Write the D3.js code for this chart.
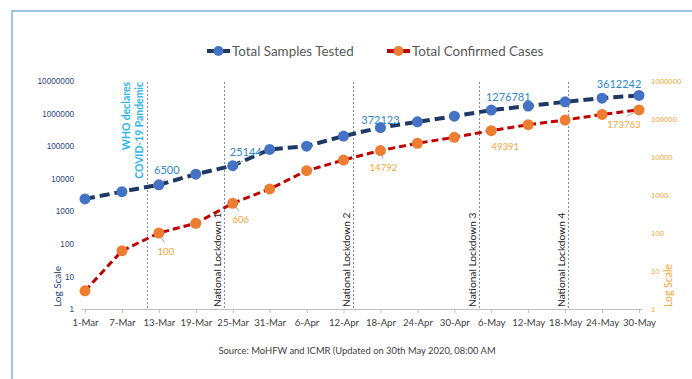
<!DOCTYPE html>
<html>
<head>
<meta charset="utf-8">
<script src="https://cdn.jsdelivr.net/npm/d3@7"></script>
<style>
  html, body { margin: 0; padding: 0; background: #fff; }
  svg { display: block; font-family: Lato, "Open Sans", sans-serif; }
</style>
</head>
<body>
<svg id="chart" width="692" height="379"></svg>
<script>
// Sampling dates (every 6 days) and their axis labels
const dates = ["2020-03-01","2020-03-07","2020-03-13","2020-03-19","2020-03-25","2020-03-31",
  "2020-04-06","2020-04-12","2020-04-18","2020-04-24","2020-04-30","2020-05-06",
  "2020-05-12","2020-05-18","2020-05-24","2020-05-30"];
const tickLabels = ["1-Mar","7-Mar","13-Mar","19-Mar","25-Mar","31-Mar","6-Apr","12-Apr",
  "18-Apr","24-Apr","30-Apr","6-May","12-May","18-May","24-May","30-May"];

// Cumulative totals (log scale)
const samplesTested = [2400, 4000, 6500, 13800, 25144, 79000, 100000, 204000,
  372123, 556000, 830000, 1276781, 1700000, 2300000, 2960000, 3612242];
const confirmedCases = [3, 34, 100, 180, 606, 1440, 4360, 8300,
  14792, 23000, 33000, 49391, 70700, 94000, 132000, 173763];

// Axis tick values
const leftTicks = [1, 10, 100, 1000, 10000, 100000, 1000000, 10000000];
const rightTicks = [1, 10, 100, 1000, 10000, 100000, 1000000];

// Key events marked with vertical dotted lines
const events = [
  { date: "2020-03-11", lines: ["WHO declares", "COVID-19 Pandemic"], kind: "who" },
  { date: "2020-03-23T12:00", lines: ["National Lockdown 1"], kind: "lockdown" },
  { date: "2020-04-13T12:00", lines: ["National Lockdown 2"], kind: "lockdown" },
  { date: "2020-05-04", lines: ["National Lockdown 3"], kind: "lockdown" },
  { date: "2020-05-18T12:00", lines: ["National Lockdown 4"], kind: "lockdown" }
];

// Which points carry value labels
const labelledIdx = [2, 4, 8, 11, 15];

// Label placement (offset from point, px) and optional leader lines
const blueLabelLayout = [
  { dx: 8, dy: -11, leader: true }, { dx: 13, dy: -10, leader: true },
  { dx: 0, dy: -4, leader: false }, { dx: 17, dy: -9, leader: false },
  { dx: -20, dy: -7, leader: false }
];
const orangeLabelLayout = [
  { dx: 7, dy: 22, leader: true }, { dx: 8, dy: 20, leader: true },
  { dx: 3, dy: 20, leader: true }, { dx: 14, dy: 19, leader: false },
  { dx: -15, dy: 18, leader: true }
];

const parse = d3.isoParse;
const svg = d3.select("#chart");

// Outer frame (top and left edges)
svg.append("line").attr("x1", 12).attr("x2", 692).attr("y1", 11).attr("y2", 11)
  .attr("stroke", "#9DC3E6").attr("stroke-width", 2);
svg.append("line").attr("x1", 12).attr("x2", 12).attr("y1", 10).attr("y2", 379)
  .attr("stroke", "#9DC3E6").attr("stroke-width", 2);

const x = d3.scaleTime()
  .domain([parse(dates[0]), parse(dates[dates.length - 1])])
  .range([85, 639]);
const yL = d3.scaleLog().domain([1, 1e7]).range([309, 81]);
const yR = d3.scaleLog().domain([1, 1e6]).range([309, 81]);

// X axis
const xAxis = d3.axisBottom(x)
  .tickValues(dates.map(parse))
  .tickFormat((d, i) => tickLabels[i])
  .tickSizeOuter(0).tickSizeInner(4).tickPadding(6);
const gx = svg.append("g").attr("transform", "translate(0,309)").call(xAxis);
gx.select(".domain").attr("d", "M82,0.5H642").attr("stroke", "#BFBFBF");
gx.selectAll(".tick line").attr("stroke", "#BFBFBF");
gx.selectAll(".tick text").attr("fill", "#404040").attr("font-size", 9.6)
  .attr("font-family", "Lato, sans-serif");

// Left y axis (samples)
const gl = svg.append("g").attr("transform", "translate(74,0)")
  .call(d3.axisLeft(yL).tickValues(leftTicks).tickFormat(d3.format("d")).tickSize(0).tickPadding(0));
gl.select(".domain").remove();
gl.selectAll(".tick text").attr("fill", "#2E4482").attr("font-size", 8.2);

// Right y axis (cases)
const gr = svg.append("g").attr("transform", "translate(651,0)")
  .call(d3.axisRight(yR).tickValues(rightTicks).tickFormat(d3.format("d")).tickSize(0).tickPadding(0));
gr.select(".domain").remove();
gr.selectAll(".tick text").attr("fill", "#F7A536").attr("font-size", 7.8);

// "Log Scale" notes
svg.append("text").attr("transform", "translate(61,307) rotate(-90)")
  .attr("fill", "#2E4482").attr("font-size", 10).text("Log Scale");
svg.append("text").attr("transform", "translate(672,307) rotate(-90)")
  .attr("fill", "#F7A536").attr("font-size", 10.5).text("Log Scale");

// Event markers
const ev = svg.append("g");
events.forEach(e => {
  const ex = Math.round(x(parse(e.date))) + 0.5;
  ev.append("line").attr("x1", ex).attr("x2", ex).attr("y1", 82).attr("y2", 309)
    .attr("stroke", "#8C8C8C").attr("stroke-width", 1).attr("stroke-dasharray", "2,2");
  if (e.kind === "who") {
    e.lines.forEach((t, i) => {
      svg.append("text")
        .attr("transform", `translate(${ex - 17.5 + i * 13},82) rotate(-90)`)
        .attr("text-anchor", "end").attr("fill", "#2CB4EC")
        .attr("font-weight", "bold").attr("font-size", 10.4).text(t);
    });
  } else {
    svg.append("text")
      .attr("transform", `translate(${ex - 4},307) rotate(-90)`)
      .attr("fill", "#262626").attr("font-size", 10.2).text(e.lines[0]);
  }
});

const series = [
  { values: samplesTested, y: yL, line: "#1F3864", marker: "#4472C4", width: 4, dash: "10,5",
    labelColor: "#2F86D1", labelSize: 11, layout: blueLabelLayout },
  { values: confirmedCases, y: yR, line: "#C00000", marker: "#ED7D31", width: 3, dash: "7,4",
    labelColor: "#F7A536", labelSize: 9.6, layout: orangeLabelLayout }
];

series.forEach(s => {
  const pts = dates.map((d, i) => [x(parse(d)), s.y(s.values[i])]);
  svg.append("path").datum(pts)
    .attr("d", d3.line())
    .attr("fill", "none").attr("stroke", s.line)
    .attr("stroke-width", s.width).attr("stroke-dasharray", s.dash);
  svg.append("g").selectAll("circle").data(pts).join("circle")
    .attr("cx", d => d[0]).attr("cy", d => d[1]).attr("r", 5.5)
    .attr("fill", s.marker);

  labelledIdx.forEach((idx, k) => {
    const [px, py] = pts[idx];
    const L = s.layout[k];
    const lx = px + L.dx, ly = py + L.dy;
    if (L.leader) {
      const ddx = L.dx, ddy = L.dy < 0 ? L.dy + 4 : L.dy - 10;
      const len = Math.hypot(ddx, ddy);
      svg.append("line")
        .attr("x1", px + ddx / len * 5).attr("y1", py + ddy / len * 5)
        .attr("x2", px + ddx * 0.8).attr("y2", py + ddy * 0.8)
        .attr("stroke", "#A6A6A6").attr("stroke-width", 1);
    }
    svg.append("text").attr("x", lx).attr("y", ly)
      .attr("text-anchor", "middle").attr("fill", s.labelColor)
      .attr("font-size", s.labelSize).text(d3.format("d")(s.values[idx]));
  });
});

// Legend
const legend = [
  { name: "Total Samples Tested", x: 207, line: "#1F3864", marker: "#4472C4" },
  { name: "Total Confirmed Cases", x: 387, line: "#C00000", marker: "#ED7D31" }
];
legend.forEach(l => {
  const g = svg.append("g").attr("transform", `translate(${l.x},51)`);
  g.append("line").attr("x1", 0).attr("x2", 23).attr("y1", 0).attr("y2", 0)
    .attr("stroke", l.line).attr("stroke-width", 4);
  g.append("circle").attr("cx", 11.5).attr("cy", 0).attr("r", 5).attr("fill", l.marker);
  g.append("text").attr("x", 25).attr("y", 5).attr("fill", "#595959")
    .attr("font-size", 13.4).text(l.name);
});

// Source note
svg.append("text").attr("x", 357).attr("y", 354).attr("text-anchor", "middle")
  .attr("fill", "#404040").attr("font-size", 9.4)
  .text("Source: MoHFW and ICMR (Updated on 30th May 2020, 08:00 AM");
</script>
</body>
</html>
